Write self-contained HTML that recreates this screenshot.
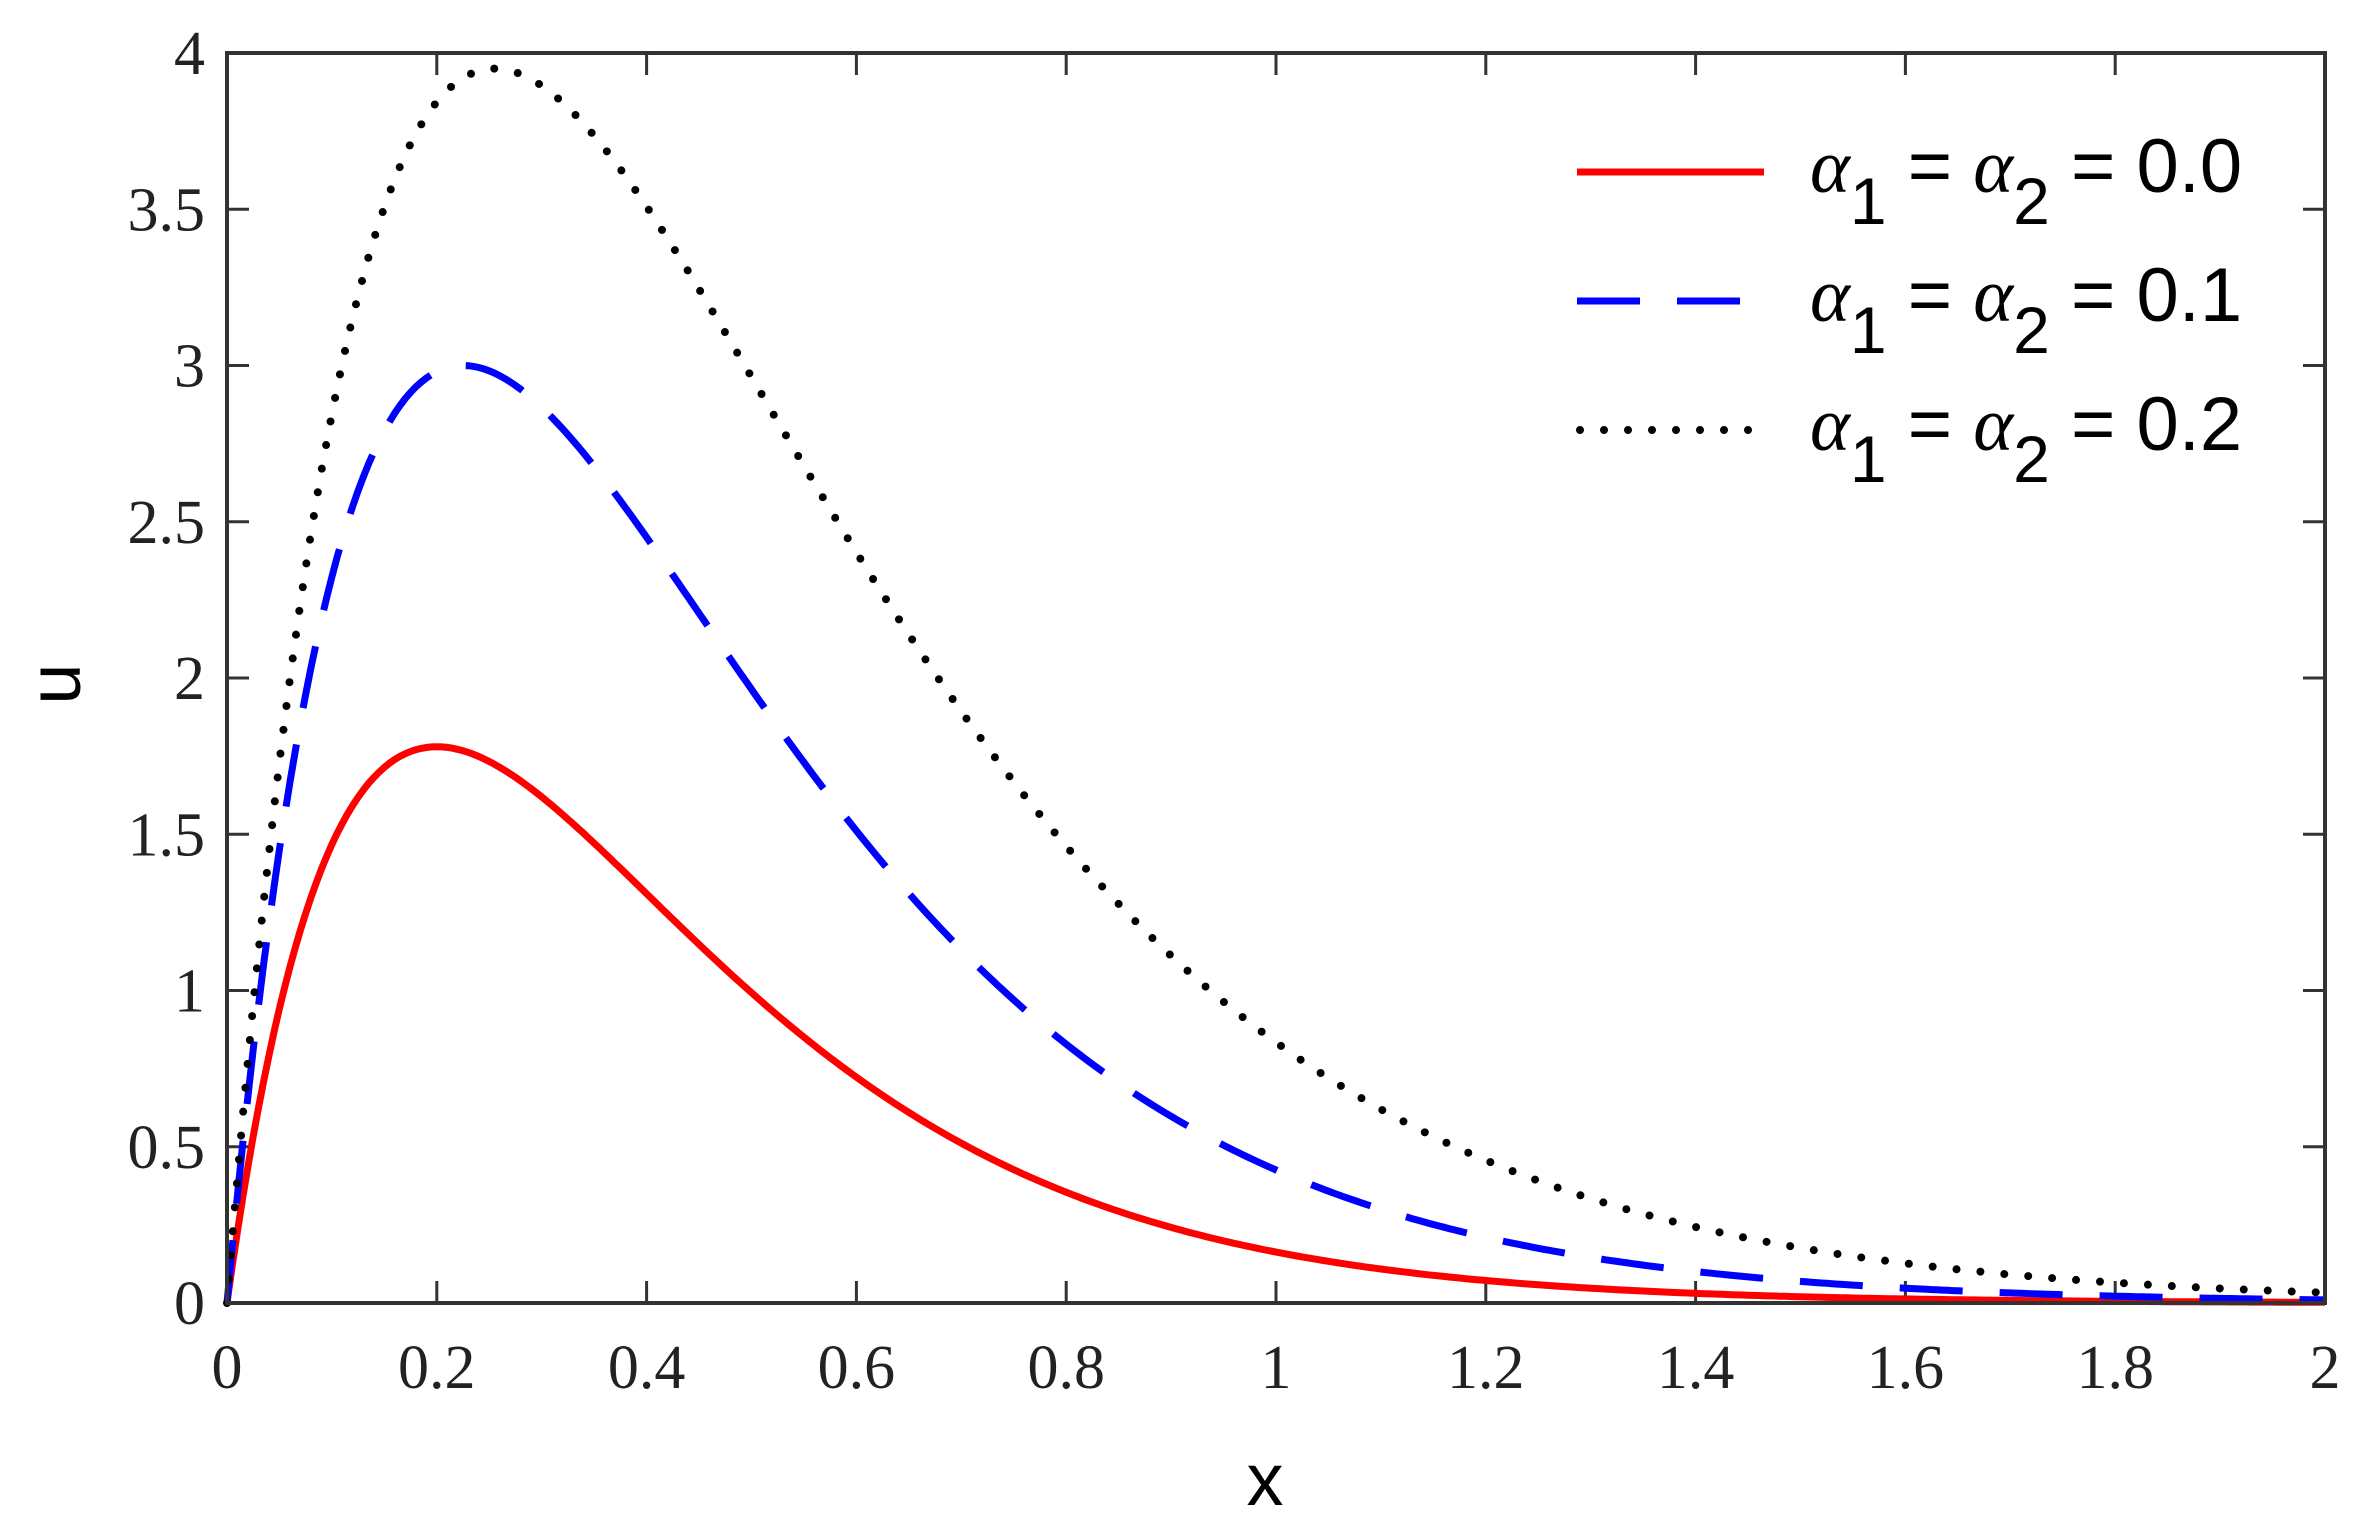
<!DOCTYPE html>
<html><head><meta charset="utf-8"><style>
html,body{margin:0;padding:0;background:#fff;}
svg{display:block;}
.t{font-family:"Liberation Serif",serif;font-size:62px;fill:#222;}
.l{font-family:"Liberation Sans",sans-serif;fill:#000;}
</style></head><body>
<svg id="s" width="2373" height="1525" viewBox="0 0 2373 1525" xmlns="http://www.w3.org/2000/svg">
<g id="ticks" stroke="#333" stroke-width="3"></g>
<g id="labels"></g>
<path id="red" fill="none" stroke="#ff0000" stroke-width="7"/>
<path id="blue" fill="none" stroke="#0000ff" stroke-width="7" stroke-dasharray="63 37"/>
<path id="blk" fill="none" stroke="#000" stroke-width="8" stroke-dasharray="0 24" stroke-linecap="round"/>
<rect x="227" y="53" width="2098" height="1250" fill="none" stroke="#333" stroke-width="4"/>
<text class="l" x="80" y="684" font-size="74" transform="rotate(-90 80 684)" text-anchor="middle">u</text>
<text class="l" x="1265" y="1505" font-size="74" text-anchor="middle">x</text>
<line x1="1577" y1="172" x2="1764" y2="172" stroke="#ff0000" stroke-width="7"/>
<line x1="1577" y1="301" x2="1764" y2="301" stroke="#0000ff" stroke-width="7" stroke-dasharray="63 37"/>
<line x1="1580" y1="430" x2="1764" y2="430" stroke="#000" stroke-width="8" stroke-dasharray="0 24" stroke-linecap="round"/>
<g class="l" font-size="76">
<text x="1810" y="192"><tspan font-family="Liberation Serif" font-style="italic">α</tspan><tspan dy="32" font-size="66">1</tspan><tspan dy="-32"> = </tspan><tspan font-family="Liberation Serif" font-style="italic">α</tspan><tspan dy="32" font-size="66">2</tspan><tspan dy="-32"> = 0.0</tspan></text>
<text x="1810" y="321"><tspan font-family="Liberation Serif" font-style="italic">α</tspan><tspan dy="32" font-size="66">1</tspan><tspan dy="-32"> = </tspan><tspan font-family="Liberation Serif" font-style="italic">α</tspan><tspan dy="32" font-size="66">2</tspan><tspan dy="-32"> = 0.1</tspan></text>
<text x="1810" y="450"><tspan font-family="Liberation Serif" font-style="italic">α</tspan><tspan dy="32" font-size="66">1</tspan><tspan dy="-32"> = </tspan><tspan font-family="Liberation Serif" font-style="italic">α</tspan><tspan dy="32" font-size="66">2</tspan><tspan dy="-32"> = 0.2</tspan></text>
</g>
</svg>
<script>
var L=227,T=53,R=2325,B=1303,sx=(R-L)/2,sy=(B-T)/4;
function X(x){return L+x*sx}function Y(y){return B-y*sy}
var tk="",lb="";
for(var i=0;i<=10;i++){var x=X(i*0.2);tk+='<line x1="'+x+'" y1="'+B+'" x2="'+x+'" y2="'+(B-22)+'"/><line x1="'+x+'" y1="'+T+'" x2="'+x+'" y2="'+(T+22)+'"/>';
var s=(i==0?"0":i==5?"1":i==10?"2":(i*0.2).toFixed(1));lb+='<text class="t" x="'+x+'" y="1388" text-anchor="middle">'+s+'</text>';}
for(var j=0;j<=8;j++){var y=Y(j*0.5);tk+='<line x1="'+L+'" y1="'+y+'" x2="'+(L+22)+'" y2="'+y+'"/><line x1="'+R+'" y1="'+y+'" x2="'+(R-22)+'" y2="'+y+'"/>';
var s=(j%2==0?String(j/2):(j*0.5).toFixed(1));lb+='<text class="t" x="205" y="'+(y+21)+'" text-anchor="end">'+s+'</text>';}
document.getElementById("ticks").innerHTML=tk;document.getElementById("labels").innerHTML=lb;
function curve(A,c){var d="";for(var k=0;k<=400;k++){var x=k*2/400;var u=A*(x/c)*Math.exp(1-x/c);d+=(k?"L":"M")+X(x).toFixed(1)+" "+Y(u).toFixed(1);}return d}
document.getElementById("red").setAttribute("d",curve(1.78,0.2));
document.getElementById("blue").setAttribute("d",curve(3.0,0.225));
document.getElementById("blk").setAttribute("d",curve(3.95,0.255));
</script>
</body></html>
